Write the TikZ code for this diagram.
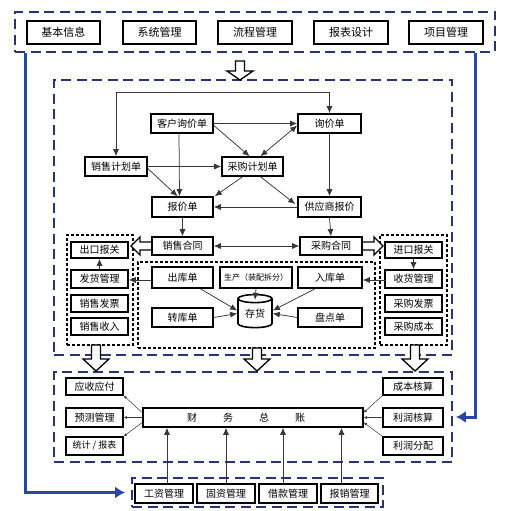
\documentclass[tikz,border=0pt]{standalone}
\usepackage{fontspec}
\newfontfamily\cjk{Noto Sans CJK SC}
\usetikzlibrary{arrows.meta,shapes.geometric,calc}
\definecolor{navy}{RGB}{38,52,128}
\definecolor{bblue}{RGB}{40,70,165}
\definecolor{lgray}{RGB}{55,55,55}
\newcommand{\hdown}[4]{\draw[hollow] (#1-4.5,#2) -- (#1+4.5,#2) -- (#1+4.5,#3-#4) -- (#1+13,#3-#4) -- (#1,#3) -- (#1-13,#3-#4) -- (#1-4.5,#3-#4) -- cycle;}
\newcommand{\hleftarr}[3]{\draw[hollow] (#1,#3-4) -- (#2+9,#3-4) -- (#2+9,#3-9) -- (#2,#3) -- (#2+9,#3+9) -- (#2+9,#3+4) -- (#1,#3+4) -- cycle;}
\newcommand{\hrightarr}[3]{\draw[hollow] (#1,#3-4) -- (#2-9,#3-4) -- (#2-9,#3-9) -- (#2,#3) -- (#2-9,#3+9) -- (#2-9,#3+4) -- (#1,#3+4) -- cycle;}
\tikzset{
  box/.style={draw, line width=1.6pt, fill=white, inner sep=0pt, font=\cjk\fontsize{10}{11}\selectfont},
  tbox/.style={box, minimum width=73pt, minimum height=23pt, font=\cjk\fontsize{11}{12}\selectfont},
  bluedash/.style={draw=navy, line width=1.9pt, dash pattern=on 10pt off 5.5pt, inner sep=0pt},
  dotbox/.style={draw=black, line width=2.8pt, dash pattern=on 2.6pt off 2.4pt, inner sep=0pt},
  arr/.style={draw=lgray, line width=0.75pt, -{Latex[length=7pt,width=6pt]}},
  darr/.style={draw=lgray, line width=0.75pt, {Latex[length=7pt,width=6pt]}-{Latex[length=7pt,width=6pt]}},
  sarr/.style={draw=lgray, line width=0.5pt, -{Latex[length=3pt,width=3pt]}},
  barr/.style={draw=bblue, line width=3pt, -{Latex[length=10pt,width=12pt]}},
  hollow/.style={draw=black, line width=1.3pt, fill=white, line join=miter},
}
\begin{document}
\begin{tikzpicture}[x=1pt,y=-1pt]
\useasboundingbox (0,0) rectangle (512,511);
\fill[white] (0,0) rectangle (512,511);
% dashed containers
\node[bluedash, minimum width=480pt, minimum height=40pt] (topbox) at (255,32) {};
\node[bluedash, minimum width=398pt, minimum height=275pt] (midbox) at (253,217.5) {};
\node[bluedash, minimum width=398pt, minimum height=90pt] (lowbox) at (253,417) {};
\node[bluedash, minimum width=251pt, minimum height=29pt] (botbox) at (257.5,492.5) {};
% dotted containers
\node[dotbox, minimum width=66pt, minimum height=110pt] (ldot) at (100,290) {};
\node[dotbox, minimum width=67pt, minimum height=110pt] (rdot) at (413.5,290) {};
\node[dotbox, minimum width=237pt, minimum height=86pt] (mdot) at (256.5,305) {};
% blue lines
\draw[barr] ($(topbox.south west)+(11,0)$) |- ($(botbox.west)+(-6,0)$);
\draw[barr] ($(topbox.south east)+(-20,0)$) |- ($(lowbox.east)+(3,0)$);
% top row
\node[tbox] (b1) at (63.5,32.5) {基本信息};
\node[tbox] (b2) at (159.5,32.5) {系统管理};
\node[tbox, minimum width=74pt] (b3) at (255,32.5) {流程管理};
\node[tbox, minimum width=74pt] (b4) at (351,32.5) {报表设计};
\node[tbox, minimum width=74pt] (b5) at (446,32.5) {项目管理};
% hollow arrows
\hdown{240}{61}{80}{9}
\hdown{96}{345}{371}{12}
\hdown{257}{348}{371}{12}
\hdown{415}{345}{371}{12}
\hleftarr{152}{131}{246}
\hrightarr{362}{383}{246}
% middle nodes
\node[box, minimum width=62pt, minimum height=19pt] (khxj) at (182,123.5) {客户询价单};
\node[box, minimum width=63pt, minimum height=19pt] (xjd) at (329.5,123.5) {询价单};
\node[box, minimum width=62pt, minimum height=19pt] (xsjh) at (116,166.5) {销售计划单};
\node[box, minimum width=61pt, minimum height=19pt] (cgjh) at (252.5,166.5) {采购计划单};
\node[box, minimum width=61pt, minimum height=20pt] (bjd) at (182.5,207) {报价单};
\node[box, minimum width=63pt, minimum height=20pt] (gysbj) at (329.5,207) {供应商报价};
\node[box, minimum width=61pt, minimum height=18pt] (xsht) at (182.5,246) {销售合同};
\node[box, minimum width=62pt, minimum height=18pt] (cght) at (331,246) {采购合同};
\node[box, minimum width=57pt, minimum height=16pt] (ckbg) at (99.5,250) {出口报关};
\node[box, minimum width=57pt, minimum height=18pt] (fhgl) at (99.5,279) {发货管理};
\node[box, minimum width=57pt, minimum height=17pt] (xsfp) at (99.5,303.5) {销售发票};
\node[box, minimum width=57pt, minimum height=17pt] (xssr) at (99.5,326.5) {销售收入};
\node[box, minimum width=57pt, minimum height=16pt] (jkbg) at (413.5,250) {进口报关};
\node[box, minimum width=57pt, minimum height=18pt] (shgl) at (413.5,279) {收货管理};
\node[box, minimum width=57pt, minimum height=17pt] (cgfp) at (413.5,303.5) {采购发票};
\node[box, minimum width=57pt, minimum height=17pt] (cgcb) at (413.5,326.5) {采购成本};
\node[box, minimum width=61pt, minimum height=21pt] (ckd) at (182.5,277.5) {出库单};
\node[box, minimum width=72pt, minimum height=21pt, font=\cjk\fontsize{8}{9}\selectfont] (sc) at (256,277.5) {生产（装配拆分）};
\node[box, minimum width=64pt, minimum height=21pt] (rkd) at (330,277.5) {入库单};
\node[box, minimum width=61pt, minimum height=19pt] (zkd) at (182.5,317.5) {转库单};
\node[box, minimum width=64pt, minimum height=19pt] (pdd) at (330,317.5) {盘点单};
\node[box, cylinder, shape border rotate=90, aspect=0.4, minimum width=34pt, minimum height=33pt] (ch) at (255,313.5) {存货};
% middle arrows
\draw[darr] (xjd.north) -- ++(0,-21) -| (xsjh.north);
\draw[arr] (khxj.east) -- (xjd.west);
\draw[arr] ($(khxj.east)+(0,2)$) -- ($(cgjh.north)+(-3,0)$);
\draw[darr] ($(xjd.west)+(0,2)$) -- ($(cgjh.north)+(8,0)$);
\draw[arr] ($(khxj.south)+(-3,0)$) -- ($(bjd.north)+(-3,0)$);
\draw[arr] (xsjh.east) -- (cgjh.west);
\draw[arr] ($(xsjh.east)+(0,2)$) -- ($(bjd.north)+(-5,0)$);
\draw[arr] ($(cgjh.south)+(-10,0)$) -- ($(bjd.north east)+(1,0)$);
\draw[arr] ($(cgjh.south)+(8,0)$) -- ($(gysbj.west)+(-2,-3)$);
\draw[arr] (xjd.south) -- (gysbj.north);
\draw[arr] (gysbj.west) -- (bjd.east);
\draw[arr] (bjd.south) -- (xsht.north);
\draw[arr] (gysbj.south) -- (cght.north);
\draw[darr] (xsht.east) -- (cght.west);
\draw[arr] (fhgl.north) -- (ckbg.south);
\draw[arr] (jkbg.south) -- (shgl.north);
\draw[arr] ($(ckd.west)+(0,2.5)$) -- ($(fhgl.east)+(0,1)$);
\draw[arr] ($(shgl.east)+(-57,1)$) -- ($(rkd.east)+(0,2.5)$);
\draw[arr] ($(ckd.south)+(18,0)$) -- ($(ch.west)+(0,-3)$);
\draw[arr] ($(rkd.south)+(-15,0)$) -- ($(ch.east)+(0,-3)$);
\draw[arr] (sc.south) -- ($(ch.north)+(0,6)$);
\draw[arr] (zkd.east) -- (ch.west);
\draw[arr] (pdd.west) -- (ch.east);
% lower nodes
\node[box, minimum width=57pt, minimum height=17pt] (yfyf) at (94.5,386.5) {应收应付};
\node[box, minimum width=57pt, minimum height=19pt] (ycgl) at (94.5,417.5) {预测管理};
\node[box, minimum width=57pt, minimum height=18pt, font=\cjk\fontsize{9}{10}\selectfont] (tjbb) at (94.5,446) {统计 / 报表};
\node[box, minimum width=60pt, minimum height=17pt] (cbhs) at (413,386.5) {成本核算};
\node[box, minimum width=60pt, minimum height=19pt] (lrhs) at (413,417.5) {利润核算};
\node[box, minimum width=60pt, minimum height=18pt] (lrfp) at (413,446) {利润分配};
\node[box, minimum width=220pt, minimum height=19pt] (cwzz) at (253,417.5) {\hspace*{-14pt}财\hspace{26pt}务\hspace{26pt}总\hspace{26pt}账};
\node[box, minimum width=58pt, minimum height=19pt] (gz) at (164,493.5) {工资管理};
\node[box, minimum width=58pt, minimum height=19pt] (gd) at (226,493.5) {固资管理};
\node[box, minimum width=58pt, minimum height=19pt] (jk) at (288,493.5) {借款管理};
\node[box, minimum width=57pt, minimum height=19pt] (bx) at (349.5,493.5) {报销管理};
% lower arrows
\draw[sarr] ($(cwzz.west)+(0,-5)$) -- (yfyf.south east);
\draw[sarr] (cwzz.west) -- (ycgl.east);
\draw[sarr] ($(cwzz.west)+(0,5)$) -- (tjbb.north east);
\draw[sarr] (cbhs.south west) -- ($(cwzz.east)+(0,-5)$);
\draw[sarr] (lrhs.west) -- (cwzz.east);
\draw[sarr] (lrfp.north west) -- ($(cwzz.east)+(0,5)$);
\draw[arr] ($(gz.north)+(3,0)$) -- ($(gz.north |- cwzz.south)+(3,0)$);
\draw[arr] (gd.north) -- (gd.north |- cwzz.south);
\draw[arr] ($(jk.north)+(-5,0)$) -- ($(jk.north |- cwzz.south)+(-5,0)$);
\draw[arr] ($(bx.north)+(-8,0)$) -- ($(bx.north |- cwzz.south)+(-8,0)$);
\end{tikzpicture}
\end{document}
